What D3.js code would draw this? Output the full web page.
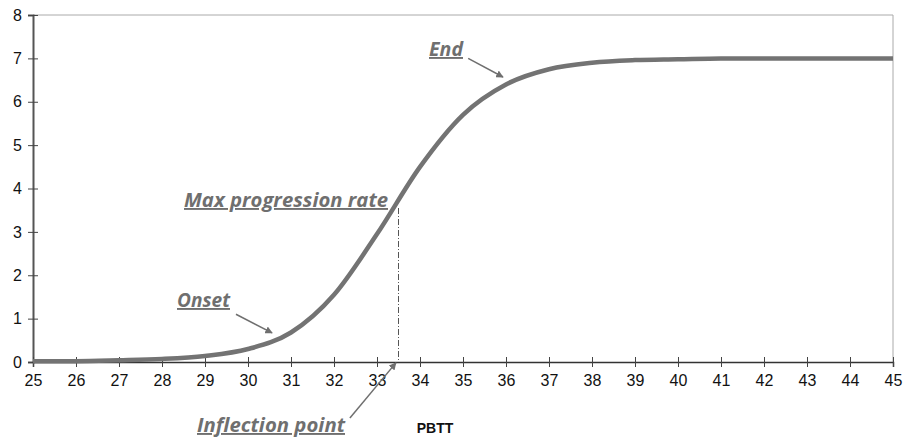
<!DOCTYPE html>
<html>
<head>
<meta charset="utf-8">
<script src="https://cdn.jsdelivr.net/npm/d3@7.9.0/dist/d3.min.js"></script>
<style>
  body { margin: 0; background: #fff; }
  svg text { font-family: Arial, "Liberation Sans", sans-serif; }
  .note { font-family: "Open Sans", "DejaVu Sans", sans-serif; font-weight: bold; font-style: italic; fill: #6f6f6f; font-size: 19px; text-decoration: underline; }
</style>
</head>
<body>
<svg id="chart" width="904" height="439"></svg>
<script>
// PBTT vs value
const pbtt = [25, 26, 27, 28, 29, 30, 31, 32, 33, 34, 35, 36, 37, 38, 39, 40, 41, 42, 43, 44, 45];
const values = [0.02, 0.02, 0.04, 0.07, 0.14, 0.3, 0.68, 1.55, 2.95, 4.5, 5.7, 6.4, 6.75, 6.9, 6.96, 6.98, 7, 7, 7, 7, 7];
const xTicks = d3.range(25, 46);
const yTicks = [0, 1, 2, 3, 4, 5, 6, 7, 8];
const inflection = { x: 33.5, y: 3.55 };

// annotations: label position (px) and arrow in data units
const notes = [
  { text: 'End', lx: 429, ly: 56, w: 34, from: [35.12, 7.0], to: [35.93, 6.57] },
  { text: 'Onset', lx: 177, ly: 307, w: 53, from: [29.72, 1.1], to: [30.56, 0.67] },
  { text: 'Max progression rate', lx: 184, ly: 207, w: 204, from: null, to: null },
  { text: 'Inflection point', lx: 197, ly: 432, w: 148, from: [32.37, -1.29], to: [33.44, -0.02] }
];

const svg = d3.select('#chart');
const x = d3.scaleLinear().domain([25, 45]).range([33, 893]);
const y = d3.scaleLinear().domain([0, 8]).range([362, 15]);

svg.append('defs').append('marker')
  .attr('id', 'arr')
  .attr('viewBox', '0 0 10 10')
  .attr('refX', 9).attr('refY', 5)
  .attr('markerWidth', 5).attr('markerHeight', 5)
  .attr('orient', 'auto')
  .append('path').attr('d', 'M0,0L10,5L0,10z').attr('fill', '#6f6f6f');

// frame: top and right light
svg.append('path')
  .attr('d', `M${x(25)},${y(8)}H${x(45)}V${y(0)}`)
  .attr('fill', 'none').attr('stroke', '#aaa').attr('stroke-width', 1);

// y axis
const ya = svg.append('g').attr('transform', `translate(${x(25)},0)`)
  .call(d3.axisLeft(y).tickValues(yTicks).tickSize(5).tickPadding(6).tickFormat(d3.format('d')));
ya.select('.domain').attr('stroke', '#555').attr('stroke-width', 2);
ya.selectAll('.tick line').attr('stroke', '#444').attr('x2', 5).attr('x1', -5);
ya.selectAll('.tick text').attr('font-size', 16).attr('fill', '#111').attr('x', -11);

// x axis
const xa = svg.append('g').attr('transform', `translate(0,${y(0)})`)
  .call(d3.axisBottom(x).tickValues(xTicks).tickSize(5).tickPadding(8).tickFormat(d3.format('d')));
xa.select('.domain').attr('stroke', '#333').attr('stroke-width', 1.5);
xa.selectAll('.tick line').attr('stroke', '#444').attr('y1', -5).attr('y2', 5);
xa.selectAll('.tick text').attr('font-size', 16).attr('fill', '#111');

// curve
const line = d3.line().x((d, i) => x(pbtt[i])).y(d => y(d)).curve(d3.curveMonotoneX);
svg.append('path')
  .datum(values)
  .attr('d', line)
  .attr('fill', 'none')
  .attr('stroke', '#737373')
  .attr('stroke-width', 4.5)
  .attr('stroke-linejoin', 'round');

// dash-dot drop line at inflection
svg.append('line')
  .attr('x1', x(inflection.x)).attr('x2', x(inflection.x))
  .attr('y1', y(inflection.y)).attr('y2', y(0))
  .attr('stroke', '#555').attr('stroke-width', 1)
  .attr('stroke-dasharray', '6,2,1,2');

// annotations
notes.forEach(n => {
  svg.append('text').attr('class', 'note')
    .attr('x', n.lx).attr('y', n.ly)
    .attr('textLength', n.w).attr('lengthAdjust', 'spacingAndGlyphs')
    .text(n.text);
  if (n.from) {
    svg.append('line')
      .attr('x1', x(n.from[0])).attr('y1', y(n.from[1]))
      .attr('x2', x(n.to[0])).attr('y2', y(n.to[1]))
      .attr('stroke', '#6f6f6f').attr('stroke-width', 1.5)
      .attr('marker-end', 'url(#arr)');
  }
});

svg.append('text')
  .attr('x', 435).attr('y', 433)
  .attr('text-anchor', 'middle')
  .attr('font-size', 14).attr('font-weight', 'bold').attr('fill', '#111')
  .text('PBTT');
</script>
</body>
</html>
